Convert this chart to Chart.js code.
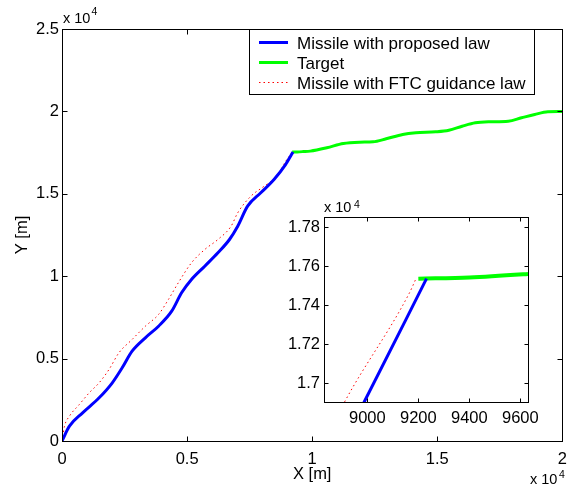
<!DOCTYPE html>
<html>
<head>
<meta charset="utf-8">
<script src="https://cdn.jsdelivr.net/npm/chart.js@4/dist/chart.umd.min.js"></script>
<style>
  html, body { margin: 0; padding: 0; background: #fff; }
  #wrap { position: relative; width: 576px; height: 496px; }
  #mainChart { position: absolute; left: 0; top: 0; }
  #insetChart { position: absolute; left: 270px; top: 190px; }
</style>
</head>
<body>
<div id="wrap">
  <canvas id="mainChart" width="576" height="496"></canvas>
  <canvas id="insetChart" width="290" height="240"></canvas>
</div>
<script>
// trajectories (metres)
const proposedX = [0, 297, 823, 1484, 2010, 2405, 2801, 3331, 3858, 4384, 4779, 5175, 5705, 6231, 6694, 7023, 7418, 7945, 8474, 8934, 8988, 9232];
const proposedY = [0, 898, 1711, 2621, 3532, 4442, 5449, 6262, 6966, 7876, 8993, 9800, 10607, 11420, 12227, 13034, 14248, 15061, 15868, 16770, 16906, 17537];

const targetX = [9200, 9400, 9630, 9923, 10584, 11244, 11901, 12431, 12957, 13618, 14144, 14936, 15462, 15992, 16518, 17044, 17836, 18366, 18892, 19418, 20000];
const targetY = [17537, 17543, 17561, 17590, 17791, 18052, 18131, 18155, 18337, 18598, 18701, 18762, 18859, 19102, 19308, 19369, 19405, 19612, 19812, 19976, 20000];

const ftcX = [0, 99, 297, 692, 1088, 1484, 1879, 2275, 2801, 3331, 3858, 4253, 4648, 5175, 5705, 6231, 6758, 7023, 7549, 8079, 8605, 8911, 9165, 9190];
const ftcY = [0, 898, 1505, 2215, 2925, 3532, 4339, 5352, 6159, 6966, 7676, 8586, 9600, 10813, 11620, 12227, 13034, 13847, 14854, 15461, 16100, 16906, 17464, 17535];

const seriesLabels = ['Missile with proposed law', 'Target', 'Missile with FTC guidance law'];

const mainXTicks = [0, 5000, 10000, 15000, 20000];
const mainYTicks = [0, 5000, 10000, 15000, 20000, 25000];
const insetXTicks = [9000, 9200, 9400, 9600];
const insetYTicks = [17000, 17200, 17400, 17600, 17800];
const insetXRange = [8830, 9630];
const insetYRange = [16905, 17853];

const FONT = '"Liberation Sans", Arial, Helvetica, sans-serif';
Chart.defaults.color = '#000';
Chart.defaults.font.family = FONT;

function pts(xs, ys) {
  return xs.map((x, i) => ({x: x, y: ys[i]}));
}

function makeDatasets(greenWidth) {
  return [
    {label: seriesLabels[0], data: pts(proposedX, proposedY), borderColor: '#0000ff', borderWidth: 3},
    {label: seriesLabels[1], data: pts(targetX, targetY), borderColor: '#00ff00', borderWidth: greenWidth},
    {label: seriesLabels[2], data: pts(ftcX, ftcY), borderColor: '#ff0000', borderWidth: 1, borderDash: [1.5, 3]}
  ].map(d => Object.assign(d, {showLine: true, pointRadius: 0, fill: false, cubicInterpolationMode: 'monotone'}));
}

function sci(v) {
  return String(+(v / 1e4).toFixed(2));
}

function fixedTicks(list) {
  return s => { s.ticks = list.map(v => ({value: v})); };
}

function drawExp(ctx, e) {
  ctx.textAlign = 'left';
  ctx.textBaseline = 'alphabetic';
  ctx.font = '14.5px ' + FONT;
  ctx.fillText('x 10', e[0], e[1]);
  ctx.font = '10.5px ' + FONT;
  ctx.fillText('4', e[2], e[3]);
}

// matlab-like box with inward ticks, exponent labels, titles and legend
const matlabAxes = {
  id: 'matlabAxes',
  beforeDraw(chart) {
    const a = chart.chartArea, c = chart.ctx;
    c.save();
    c.fillStyle = '#fff';
    c.fillRect(a.left, a.top, a.right - a.left, a.bottom - a.top);
    c.restore();
  },
  afterDraw(chart, args, opts) {
    const c = chart.ctx, a = chart.chartArea, sx = chart.scales.x, sy = chart.scales.y;
    const L = opts.tick;
    const l = Math.round(a.left) + 0.5, r = Math.round(a.right) + 0.5;
    const t = Math.round(a.top) + 0.5, b = Math.round(a.bottom) + 0.5;
    c.save();
    c.strokeStyle = '#000';
    c.lineWidth = 1;
    c.beginPath();
    sx.ticks.forEach(tk => {
      const p = Math.round(sx.getPixelForValue(tk.value)) + 0.5;
      c.moveTo(p, b); c.lineTo(p, b - L);
      c.moveTo(p, t); c.lineTo(p, t + L);
    });
    sy.ticks.forEach(tk => {
      const p = Math.round(sy.getPixelForValue(tk.value)) + 0.5;
      c.moveTo(l, p); c.lineTo(l + L, p);
      c.moveTo(r, p); c.lineTo(r - L, p);
    });
    c.stroke();
    c.strokeRect(l, t, r - l, b - t);

    c.fillStyle = '#000';
    (opts.exps || []).forEach(e => drawExp(c, e));

    if (opts.titles) {
      c.font = '16.5px ' + FONT;
      c.textAlign = 'center';
      c.textBaseline = 'alphabetic';
      c.fillText('X [m]', (a.left + a.right) / 2, opts.titles.xBase);
      c.save();
      c.translate(opts.titles.yBase, (a.top + a.bottom) / 2);
      c.rotate(-Math.PI / 2);
      c.fillText('Y [m]', 0, 0);
      c.restore();
    }

    const lg = opts.legend;
    if (lg) {
      c.fillStyle = '#fff';
      c.fillRect(lg.left, lg.top, lg.right - lg.left, lg.bottom - lg.top);
      c.strokeRect(lg.left, lg.top, lg.right - lg.left, lg.bottom - lg.top);
      c.font = '17px ' + FONT;
      c.textAlign = 'left';
      c.textBaseline = 'alphabetic';
      chart.data.datasets.forEach((ds, i) => {
        const y = lg.rows[i];
        c.save();
        c.strokeStyle = ds.borderColor;
        c.lineWidth = Math.min(ds.borderWidth, 3);
        c.setLineDash(ds.borderDash || []);
        c.beginPath();
        c.moveTo(lg.sample[0], y);
        c.lineTo(lg.sample[1], y);
        c.stroke();
        c.restore();
        c.fillStyle = '#000';
        c.fillText(ds.label, lg.text, y + 6);
      });
    }
    c.restore();
  }
};

const hiddenGrid = {display: false, drawTicks: false};

new Chart(document.getElementById('mainChart'), {
  type: 'scatter',
  data: {datasets: makeDatasets(3)},
  options: {
    responsive: false,
    animation: false,
    events: [],
    layout: {padding: {left: 0, top: 29, right: 8, bottom: 0}},
    scales: {
      x: {
        type: 'linear', min: mainXTicks[0], max: mainXTicks[mainXTicks.length - 1],
        grid: hiddenGrid, border: {display: false},
        afterBuildTicks: fixedTicks(mainXTicks),
        afterFit: s => { s.height = 55; },
        ticks: {padding: 9, maxRotation: 0, autoSkip: false, font: {size: 16.5}, callback: sci}
      },
      y: {
        type: 'linear', min: mainYTicks[0], max: mainYTicks[mainYTicks.length - 1],
        grid: hiddenGrid, border: {display: false},
        afterBuildTicks: fixedTicks(mainYTicks),
        afterFit: s => { s.width = 62; },
        ticks: {padding: 3, autoSkip: false, font: {size: 16.5}, callback: sci}
      }
    },
    plugins: {
      legend: {display: false},
      tooltip: {enabled: false},
      matlabAxes: {
        tick: 5,
        exps: [[63, 23.3, 91.5, 15], [530, 484, 559, 478]],
        titles: {xBase: 478.5, yBase: 27},
        legend: {left: 249.5, top: 29.5, right: 534.5, bottom: 94.5, sample: [259, 288], text: 297, rows: [42.5, 62.5, 82.5]}
      }
    }
  },
  plugins: [matlabAxes]
});

new Chart(document.getElementById('insetChart'), {
  type: 'scatter',
  data: {datasets: makeDatasets(4)},
  options: {
    responsive: false,
    animation: false,
    events: [],
    layout: {padding: {left: 0, top: 27, right: 32, bottom: 0}},
    scales: {
      x: {
        type: 'linear', min: insetXRange[0], max: insetXRange[1],
        grid: hiddenGrid, border: {display: false},
        afterBuildTicks: fixedTicks(insetXTicks),
        afterFit: s => { s.height = 28; },
        ticks: {padding: 7, maxRotation: 0, autoSkip: false, font: {size: 16.5}, callback: v => String(v)}
      },
      y: {
        type: 'linear', min: insetYRange[0], max: insetYRange[1],
        grid: hiddenGrid, border: {display: false},
        afterBuildTicks: fixedTicks(insetYTicks),
        afterFit: s => { s.width = 54; },
        ticks: {padding: 4, autoSkip: false, font: {size: 16.5}, callback: sci}
      }
    },
    plugins: {
      legend: {display: false},
      tooltip: {enabled: false},
      matlabAxes: {
        tick: 4,
        exps: [[54, 21.7, 84, 18]]
      }
    }
  },
  plugins: [matlabAxes]
});
</script>
</body>
</html>
